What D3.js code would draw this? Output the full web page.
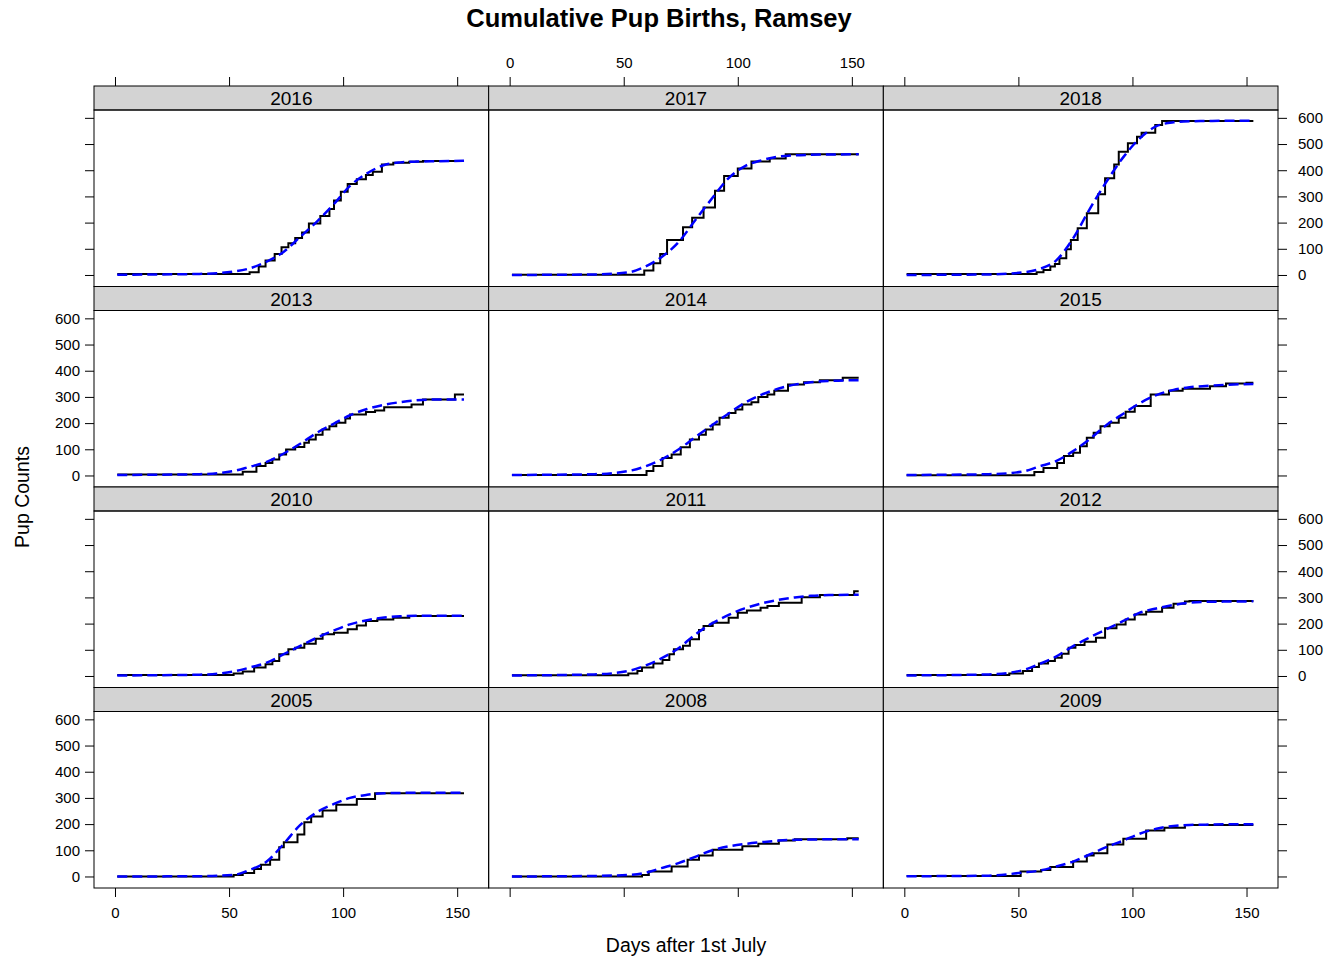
<!DOCTYPE html>
<html>
<head>
<meta charset="utf-8">
<script src="https://cdn.jsdelivr.net/npm/d3@7"></script>
<style>
  html, body { margin: 0; padding: 0; background: #fff; }
  svg { display: block; font-family: "Liberation Sans", Arial, sans-serif; }
</style>
</head>
<body>
<svg id="chart" width="1330" height="960"></svg>
<script>
// Panel layout, top row first
const panelRows = [
  ["2016", "2017", "2018"],
  ["2013", "2014", "2015"],
  ["2010", "2011", "2012"],
  ["2005", "2008", "2009"]
];

const xTicks = [0, 50, 100, 150];
const yTicks = [0, 100, 200, 300, 400, 500, 600];

// Observed cumulative counts (step series): day after 1st July, running total
const days2016 = [1, 59, 63, 66, 70, 73, 76, 79, 82, 85, 90, 94, 96, 99, 102, 106, 110, 113, 117, 122, 129, 135, 153];
const counts2016 = [4, 10, 32, 55, 80, 106, 121, 141, 162, 197, 225, 252, 284, 318, 347, 366, 382, 394, 422, 429, 432, 435, 435];
const days2017 = [1, 59, 63, 66, 69, 76, 80, 85, 90, 94, 100, 106, 114, 121, 153];
const counts2017 = [1, 17, 45, 80, 134, 182, 219, 258, 322, 378, 407, 433, 445, 461, 461];
const days2018 = [1, 58, 61, 64, 66, 68, 71, 73, 76, 80, 85, 88, 92, 94, 98, 102, 104, 110, 113, 153];
const counts2018 = [4, 10, 19, 32, 42, 64, 98, 134, 178, 236, 308, 369, 422, 471, 503, 528, 543, 573, 588, 588];
const days2013 = [1, 56, 62, 66, 69, 72, 75, 79, 83, 85, 88, 91, 94, 97, 101, 103, 110, 114, 118, 130, 135, 149, 153];
const counts2013 = [4, 14, 36, 48, 61, 80, 99, 109, 125, 137, 156, 176, 188, 201, 218, 233, 242, 248, 261, 271, 290, 309, 309];
const days2014 = [1, 60, 63, 67, 71, 75, 79, 83, 86, 89, 92, 96, 99, 102, 106, 109, 113, 116, 122, 129, 136, 146, 153];
const counts2014 = [2, 17, 36, 67, 80, 108, 137, 156, 176, 195, 220, 239, 252, 271, 280, 300, 309, 324, 347, 356, 364, 373, 373];
const days2015 = [1, 57, 61, 67, 70, 74, 77, 80, 83, 86, 90, 94, 97, 101, 108, 116, 122, 134, 141, 150, 153];
const counts2015 = [1, 13, 29, 48, 74, 87, 112, 144, 163, 188, 201, 220, 243, 265, 309, 324, 331, 341, 351, 354, 354];
const days2010 = [1, 52, 56, 61, 66, 69, 72, 76, 79, 83, 88, 91, 96, 102, 106, 110, 115, 122, 129, 153];
const counts2010 = [4, 9, 17, 32, 45, 57, 83, 102, 108, 123, 142, 159, 165, 178, 193, 210, 216, 222, 229, 229];
const days2011 = [1, 52, 56, 58, 63, 67, 70, 72, 76, 79, 83, 85, 89, 96, 100, 104, 110, 113, 118, 128, 136, 151, 153];
const counts2011 = [3, 9, 19, 32, 48, 61, 83, 102, 115, 140, 176, 191, 203, 222, 241, 250, 261, 267, 280, 301, 309, 324, 324];
const days2012 = [1, 46, 52, 56, 59, 63, 66, 69, 72, 75, 79, 84, 88, 93, 97, 101, 106, 113, 118, 123, 125, 153];
const counts2012 = [4, 9, 19, 34, 48, 57, 70, 85, 108, 118, 131, 146, 182, 197, 216, 235, 245, 261, 276, 284, 286, 286];
const days2005 = [1, 52, 56, 61, 64, 68, 72, 74, 80, 83, 86, 91, 97, 106, 114, 153];
const counts2005 = [0, 6, 13, 29, 45, 64, 112, 131, 160, 207, 229, 252, 274, 296, 318, 318];
const days2008 = [1, 58, 61, 71, 78, 83, 89, 102, 109, 118, 125, 148, 153];
const counts2008 = [0, 6, 19, 38, 64, 80, 102, 115, 125, 137, 142, 146, 146];
const days2009 = [1, 51, 60, 64, 74, 80, 83, 89, 96, 106, 114, 123, 153];
const counts2009 = [2, 19, 25, 36, 57, 80, 89, 122, 144, 176, 186, 197, 197];

// Fitted curves (dashed), sampled on a shared day grid
const fitDays = [1, 37, 52, 59, 66.5, 74, 81, 88.5, 96, 103, 110.5, 118, 125, 132, 140, 153];
const fit2016 = [1, 4, 13, 25, 51, 89, 144, 204, 271, 340, 388, 420, 430, 433, 434, 436];
const fit2017 = [0, 2, 10, 30, 68, 125, 205, 290, 370, 415, 438, 452, 457, 459, 460, 461];
const fit2018 = [0, 2, 10, 22, 55, 140, 248, 355, 450, 520, 568, 583, 587, 588, 589, 589];
const fit2013 = [2, 5, 17, 33, 52, 84, 120, 163, 198, 230, 254, 270, 280, 287, 290, 290];
const fit2014 = [2, 5, 17, 33, 61, 99, 144, 191, 237, 277, 309, 332, 347, 356, 361, 364];
const fit2015 = [2, 5, 15, 34, 55, 93, 137, 192, 236, 275, 307, 327, 337, 342, 346, 349];
const fit2010 = [2, 5, 17, 32, 51, 83, 114, 146, 174, 197, 213, 223, 228, 230, 230, 230];
const fit2011 = [2, 6, 19, 38, 67, 106, 156, 200, 233, 258, 277, 291, 300, 306, 309, 310];
const fit2012 = [2, 6, 22, 45, 74, 114, 146, 178, 210, 241, 258, 271, 280, 283, 284, 285];
const fit2005 = [0, 1, 6, 25, 57, 125, 195, 245, 277, 300, 312, 318, 319, 320, 320, 320];
const fit2008 = [0, 2, 6, 13, 32, 51, 74, 99, 115, 124, 131, 137, 140, 141, 142, 142];
const fit2009 = [1, 3, 15, 22, 38, 57, 83, 112, 137, 163, 182, 193, 197, 198, 199, 199];

const series = {
  "2016": [days2016, counts2016, fit2016], "2017": [days2017, counts2017, fit2017], "2018": [days2018, counts2018, fit2018],
  "2013": [days2013, counts2013, fit2013], "2014": [days2014, counts2014, fit2014], "2015": [days2015, counts2015, fit2015],
  "2010": [days2010, counts2010, fit2010], "2011": [days2011, counts2011, fit2011], "2012": [days2012, counts2012, fit2012],
  "2005": [days2005, counts2005, fit2005], "2008": [days2008, counts2008, fit2008], "2009": [days2009, counts2009, fit2009]
};

const svg = d3.select("#chart");
const L = 94, R = 1278, T = 86, B = 888;
const nCols = 3, nRows = 4;
const colW = (R - L) / nCols, rowH = (B - T) / nRows, stripH = 24;
const tickLen = 9;

const x = d3.scaleLinear().domain([-9.2, 163.8]).range([0, colW]);
const y = d3.scaleLinear().domain([-44, 630]).range([rowH - stripH, 0]);

// Title and axis titles
svg.append("text").attr("x", 659).attr("y", 27).attr("text-anchor", "middle")
  .attr("font-size", 25.5).attr("font-weight", "bold").text("Cumulative Pup Births, Ramsey");
svg.append("text").attr("x", 686).attr("y", 952).attr("text-anchor", "middle")
  .attr("font-size", 19.5).text("Days after 1st July");
svg.append("text").attr("transform", "translate(29,497) rotate(-90)").attr("text-anchor", "middle")
  .attr("font-size", 19.5).text("Pup Counts");

const stepLine = d3.line().x(d => x(d[0])).y(d => y(d[1])).curve(d3.curveStepAfter);
const fitLine = d3.line().x(d => x(d[0])).y(d => y(d[1])).curve(d3.curveMonotoneX);

panelRows.forEach((row, ri) => {
  row.forEach((yr, ci) => {
    const px = L + ci * colW, py = T + ri * rowH;
    const g = svg.append("g").attr("transform", `translate(${px},${py})`);
    // strip
    g.append("rect").attr("x", 0).attr("y", 0).attr("width", colW).attr("height", stripH)
      .attr("fill", "#d3d3d3").attr("stroke", "#000").attr("stroke-width", 1);
    g.append("text").attr("x", colW / 2).attr("y", stripH / 2 + 7).attr("text-anchor", "middle")
      .attr("font-size", 19).text(yr);
    const p = g.append("g").attr("transform", `translate(0,${stripH})`);
    const clipId = "clip" + yr;
    p.append("clipPath").attr("id", clipId).append("rect")
      .attr("width", colW).attr("height", rowH - stripH);
    const [dd, cc, ff] = series[yr];
    const stepPts = dd.map((d, i) => [d, cc[i]]);
    const fitPts = fitDays.map((d, i) => [d, ff[i]]);
    p.append("path").attr("clip-path", `url(#${clipId})`).attr("d", stepLine(stepPts))
      .attr("fill", "none").attr("stroke", "#000").attr("stroke-width", 2);
    p.append("path").attr("clip-path", `url(#${clipId})`).attr("d", fitLine(fitPts))
      .attr("fill", "none").attr("stroke", "#0000ff").attr("stroke-width", 2.5)
      .attr("stroke-dasharray", "10,5");
    p.append("rect").attr("width", colW).attr("height", rowH - stripH)
      .attr("fill", "none").attr("stroke", "#000").attr("stroke-width", 1);
  });
});

// Axes on the outer frame
for (let ci = 0; ci < nCols; ci++) {
  const gx = svg.append("g").attr("transform", `translate(${L + ci * colW},${T})`);
  gx.call(d3.axisTop(x).tickValues(xTicks).tickSize(tickLen).tickPadding(9)
    .tickFormat(ci === 1 ? d3.format("d") : () => ""));
  const gb = svg.append("g").attr("transform", `translate(${L + ci * colW},${B})`);
  gb.call(d3.axisBottom(x).tickValues(xTicks).tickSize(tickLen).tickPadding(10)
    .tickFormat(ci !== 1 ? d3.format("d") : () => ""));
}
for (let ri = 0; ri < nRows; ri++) {
  const oy = T + ri * rowH + stripH;
  const gl = svg.append("g").attr("transform", `translate(${L},${oy})`);
  gl.call(d3.axisLeft(y).tickValues(yTicks).tickSize(tickLen).tickPadding(5)
    .tickFormat(ri % 2 === 1 ? d3.format("d") : () => ""));
  const gr = svg.append("g").attr("transform", `translate(${R},${oy})`);
  gr.call(d3.axisRight(y).tickValues(yTicks).tickSize(tickLen).tickPadding(11)
    .tickFormat(ri % 2 === 0 ? d3.format("d") : () => ""));
}
svg.selectAll(".domain").remove();
svg.selectAll(".tick text").attr("font-size", 15).attr("font-family", "Liberation Sans, Arial, sans-serif").attr("fill", "#000");
svg.selectAll(".tick line").attr("stroke", "#000");
</script>
</body>
</html>
